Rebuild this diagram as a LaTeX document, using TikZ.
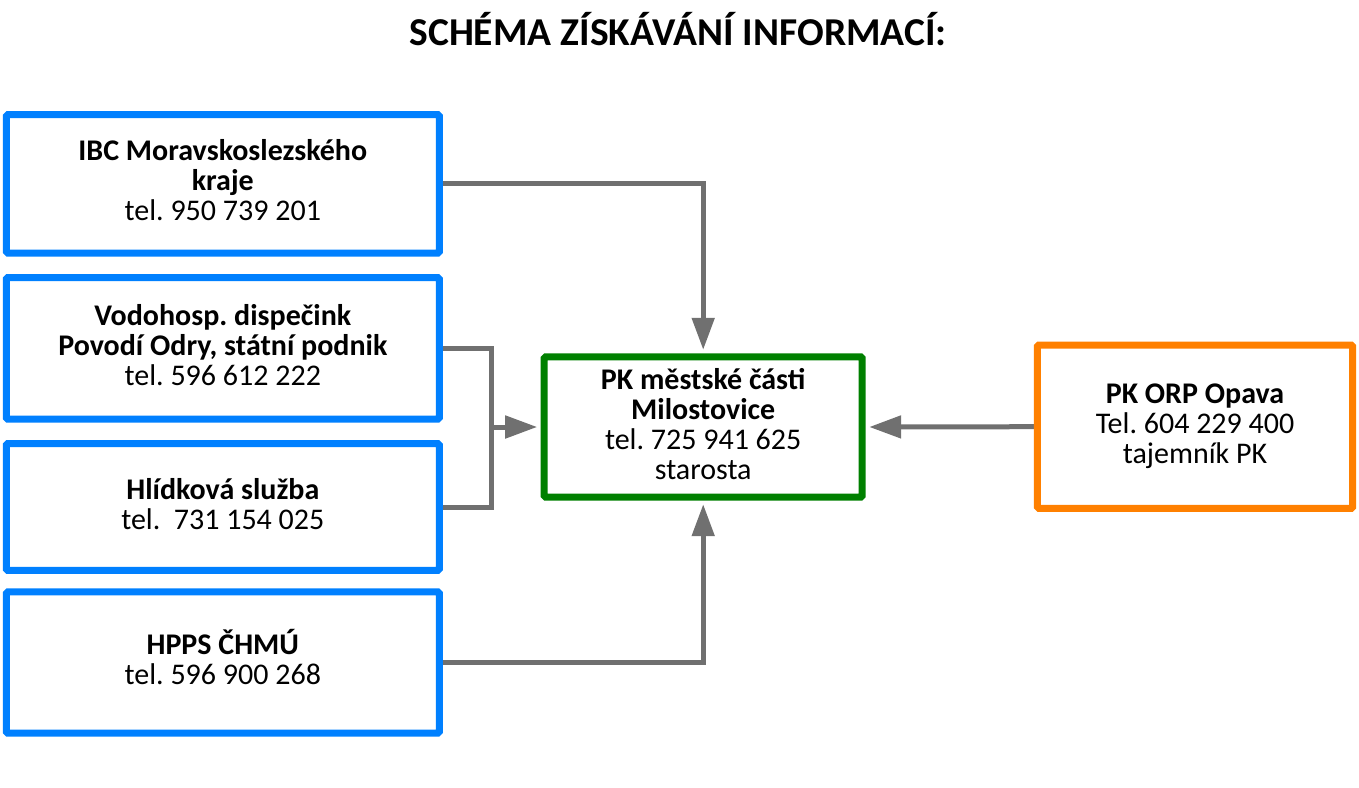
\documentclass[tikz,border=0pt]{standalone}
\usepackage{fontspec}
\setmainfont{Carlito}
\usetikzlibrary{arrows.meta,backgrounds}
\definecolor{boxblue}{RGB}{0,128,255}
\definecolor{boxgreen}{RGB}{0,128,0}
\definecolor{boxorange}{RGB}{255,128,0}
\definecolor{linegray}{RGB}{112,112,112}
\newcommand\ftop{\rule{0pt}{28pt}}
\newcommand\fbot{\rule[-14pt]{0pt}{14pt}}
\frenchspacing
\begin{document}
\begin{tikzpicture}[x=1pt,y=-1pt,
  box/.style={draw, line width=7pt, fill=white, inner sep=0pt, align=center,
    font=\fontsize{30}{30}\selectfont, rounded corners=1.5pt},
  bluebox/.style={box, draw=boxblue, minimum width=433pt},
  conn/.style={draw=linegray, line width=5pt},
  arr/.style={conn, -{Triangle[length=32pt,width=22pt]}, shorten >=3.5pt}]
\useasboundingbox (0,0) rectangle (1359,787);
\node[font=\fontsize{39.5}{39.5}\selectfont\bfseries, anchor=base] (title) at (678,45) {SCHÉMA ZÍSKÁVÁNÍ INFORMACÍ:};
\node[bluebox, minimum height=138.3pt] (b1) at (222.8,183.85)
  {\ftop\textbf{IBC Moravskoslezského}\\\textbf{kraje}\\tel. 950 739 201\fbot};
\node[bluebox, minimum height=141.6pt] (b2) at (222.8,348.4)
  {\ftop\textbf{Vodohosp. dispečink}\\\textbf{Povodí Odry, státní podnik}\\tel. 596 612 222\fbot};
\node[bluebox, minimum height=126.8pt] (b3) at (222.8,507)
  {\ftop\textbf{Hlídková služba}\\tel.\ \ 731 154 025\fbot};
\node[bluebox, minimum height=141.2pt] (b4) at (222.8,662.5)
  {\ftop\textbf{HPPS ČHMÚ}\\tel. 596 900 268\fbot};
\node[box, draw=boxgreen, minimum width=318pt, minimum height=140.4pt] (g) at (703.2,427)
  {\ftop\textbf{PK městské části}\\\textbf{Milostovice}\\tel. 725 941 625\\starosta\fbot};
\node[box, draw=boxorange, minimum width=315.4pt, minimum height=163.3pt] (o) at (1195,426.7)
  {\ftop\textbf{PK ORP Opava}\\Tel. 604 229 400\\tajemník PK\fbot};
\coordinate (br) at (491.3,427);
\begin{scope}[on background layer]
  \draw[arr] (b1.east) -| (g.north);
  \draw[conn] (b2.east) -| (br) |- (b3.east);
  \draw[arr] (br) -- (g.west);
  \draw[arr] (b4.east) -| (g.south);
  \draw[arr] (o.west) -- (g.east);
\end{scope}
\end{tikzpicture}
\end{document}
